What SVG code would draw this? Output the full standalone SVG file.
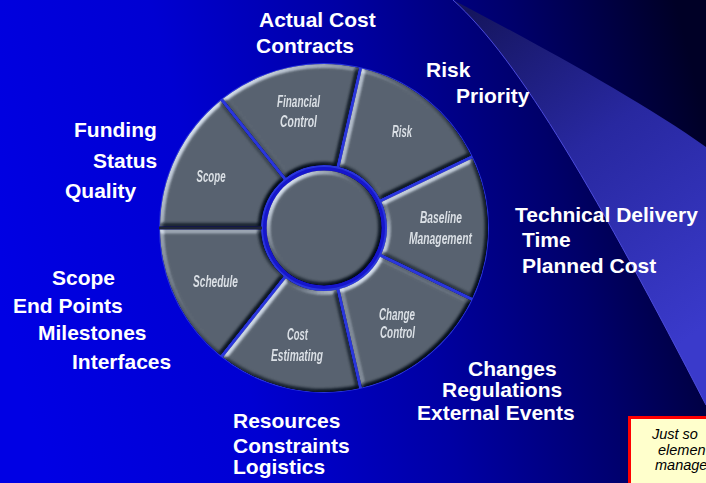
<svg xmlns="http://www.w3.org/2000/svg" xmlns:xlink="http://www.w3.org/1999/xlink" width="706" height="483" viewBox="0 0 706 483">
  <defs>
    <linearGradient id="bg" gradientUnits="userSpaceOnUse" x1="0" y1="300" x2="706" y2="120">
      <stop offset="0" stop-color="#0000e4"/>
      <stop offset="0.3" stop-color="#0000d2"/>
      <stop offset="0.55" stop-color="#0000a4"/>
      <stop offset="0.78" stop-color="#00006a"/>
      <stop offset="1" stop-color="#000026"/>
    </linearGradient>
    <linearGradient id="swoosh" gradientUnits="userSpaceOnUse" x1="470" y1="10" x2="700" y2="330">
      <stop offset="0" stop-color="#15155e"/>
      <stop offset="0.45" stop-color="#2828a0"/>
      <stop offset="1" stop-color="#3a3acb"/>
    </linearGradient>
    <filter id="bevel" x="-5%" y="-5%" width="110%" height="110%" color-interpolation-filters="sRGB">
      <feGaussianBlur in="SourceAlpha" stdDeviation="2" result="b"/>
      <feDiffuseLighting in="b" surfaceScale="3" diffuseConstant="1" lighting-color="#ffffff" result="d">
        <feDistantLight azimuth="225" elevation="40"/>
      </feDiffuseLighting>
      <feComponentTransfer in="d" result="m">
        <feFuncR type="table" tableValues="0.42 0.52 0.66 1"/>
        <feFuncG type="table" tableValues="0.42 0.52 0.66 1"/>
        <feFuncB type="table" tableValues="0.42 0.52 0.66 1"/>
      </feComponentTransfer>
      <feComposite in="SourceGraphic" in2="m" operator="arithmetic" k1="0" k2="1" k3="1.4" k4="-0.9" result="c"/>
      <feComposite in="c" in2="SourceAlpha" operator="in"/>
    </filter>
    <path id="seg" d="M148.40,-69.80 A164,164 0 0 1 148.40,69.80 L57.40,25.98 A63,63 0 0 0 57.40,-25.98 Z"/>
    <style>
      .lbl { font-family: "Liberation Sans", Arial, sans-serif; font-weight: bold; font-size: 21px; fill: #ffffff; }
      .seg { fill: #57616e; }
      .sl { font-family: "Liberation Sans", Arial, sans-serif; font-style: italic; font-weight: bold; font-size: 16px; fill: #d9dee4; text-anchor: middle; }
      .note { font-family: "Liberation Sans", Arial, sans-serif; font-style: italic; font-size: 14.5px; fill: #000000; }
    </style>
  </defs>

  <!-- background -->
  <rect x="0" y="0" width="706" height="483" fill="url(#bg)"/>
  <path d="M453,0 C520,60 600,200 706,405 L706,147 C640,100 530,40 453,0 Z" fill="url(#swoosh)"/>
  <path d="M453,0 C520,60 600,200 706,405" fill="none" stroke="#4b4bdc" stroke-width="1"/>

  <!-- wheel backing -->
  <circle cx="324" cy="228" r="165" fill="#2a36dc"/>
  <line x1="159" y1="228" x2="262" y2="228" stroke="#1e2436" stroke-width="3"/>

  <g id="wheel" filter="url(#bevel)">
    <g id="node-scope">
      <use xlink:href="#seg" class="seg" transform="translate(324 228) rotate(205.714)"/>
      <text class="sl" x="211" y="182" textLength="29" lengthAdjust="spacingAndGlyphs">Scope</text>
    </g>
    <g id="node-financial-control">
      <use xlink:href="#seg" class="seg" transform="translate(324 228) rotate(257.143)"/>
      <text class="sl" x="298.5" y="107" textLength="43" lengthAdjust="spacingAndGlyphs">Financial</text>
      <text class="sl" x="298.5" y="127" textLength="37" lengthAdjust="spacingAndGlyphs">Control</text>
    </g>
    <g id="node-risk">
      <use xlink:href="#seg" class="seg" transform="translate(324 228) rotate(308.571)"/>
      <text class="sl" x="402" y="137" textLength="20" lengthAdjust="spacingAndGlyphs">Risk</text>
    </g>
    <g id="node-baseline-management">
      <use xlink:href="#seg" class="seg" transform="translate(324 228)"/>
      <text class="sl" x="441" y="223" textLength="42" lengthAdjust="spacingAndGlyphs">Baseline</text>
      <text class="sl" x="440.5" y="244" textLength="63" lengthAdjust="spacingAndGlyphs">Management</text>
    </g>
    <g id="node-change-control">
      <use xlink:href="#seg" class="seg" transform="translate(324 228) rotate(51.429)"/>
      <text class="sl" x="397" y="320" textLength="36" lengthAdjust="spacingAndGlyphs">Change</text>
      <text class="sl" x="397.5" y="338" textLength="35" lengthAdjust="spacingAndGlyphs">Control</text>
    </g>
    <g id="node-cost-estimating">
      <use xlink:href="#seg" class="seg" transform="translate(324 228) rotate(102.857)"/>
      <text class="sl" x="297.5" y="340" textLength="21" lengthAdjust="spacingAndGlyphs">Cost</text>
      <text class="sl" x="297" y="361" textLength="52" lengthAdjust="spacingAndGlyphs">Estimating</text>
    </g>
    <g id="node-schedule">
      <use xlink:href="#seg" class="seg" transform="translate(324 228) rotate(154.286)"/>
      <text class="sl" x="215.5" y="287" textLength="45" lengthAdjust="spacingAndGlyphs">Schedule</text>
    </g>
  </g>

  <g id="node-center">
    <circle cx="324" cy="228" r="61" fill="#1616cc"/>
    <circle cx="324" cy="228" r="57.5" class="seg" filter="url(#bevel)"/>
  </g>

  <g id="connectors"/>

  <!-- outer labels -->
  <g id="labels-financial">
    <text class="lbl" x="259" y="27">Actual Cost</text>
    <text class="lbl" x="256" y="53">Contracts</text>
  </g>
  <g id="labels-risk">
    <text class="lbl" x="426" y="77">Risk</text>
    <text class="lbl" x="456" y="103">Priority</text>
  </g>
  <g id="labels-scope">
    <text class="lbl" x="74" y="137">Funding</text>
    <text class="lbl" x="93" y="168">Status</text>
    <text class="lbl" x="65" y="198">Quality</text>
  </g>
  <g id="labels-baseline">
    <text class="lbl" x="515" y="222">Technical Delivery</text>
    <text class="lbl" x="522" y="247">Time</text>
    <text class="lbl" x="522" y="273">Planned Cost</text>
  </g>
  <g id="labels-schedule">
    <text class="lbl" x="52" y="285">Scope</text>
    <text class="lbl" x="13" y="313">End Points</text>
    <text class="lbl" x="38" y="340">Milestones</text>
    <text class="lbl" x="72" y="369">Interfaces</text>
  </g>
  <g id="labels-change">
    <text class="lbl" x="468" y="376">Changes</text>
    <text class="lbl" x="442" y="397">Regulations</text>
    <text class="lbl" x="417" y="420">External Events</text>
  </g>
  <g id="labels-cost">
    <text class="lbl" x="233" y="428">Resources</text>
    <text class="lbl" x="233" y="453">Constraints</text>
    <text class="lbl" x="233" y="474">Logistics</text>
  </g>

  <g id="note">
    <rect x="629.5" y="417.5" width="100" height="80" fill="#ffffcc" stroke="#ff0000" stroke-width="3"/>
    <text class="note" x="652" y="439">Just so</text>
    <text class="note" x="658" y="455">elemen</text>
    <text class="note" x="655" y="470">manage</text>
  </g>
</svg>
